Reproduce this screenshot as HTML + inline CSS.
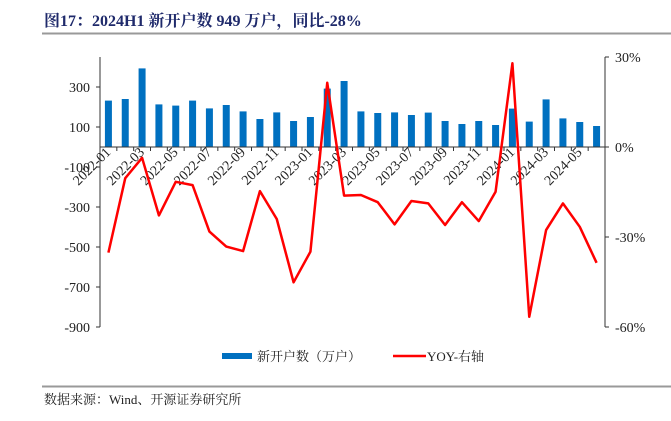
<!DOCTYPE html>
<html><head><meta charset="utf-8"><style>
body{margin:0;background:#fff;width:671px;height:416px;overflow:hidden;font-family:"Liberation Serif","Noto Serif CJK SC",serif}
</style></head><body>
<svg width="671" height="416" xmlns="http://www.w3.org/2000/svg">
<text x="44" y="26" font-size="16" font-weight="bold" fill="#1f2a6b" font-family="Liberation Serif, Noto Serif CJK SC, serif">图17：2024H1 新开户数 949 万户，同比-28%</text>
<line x1="42" y1="33.5" x2="671" y2="33.5" stroke="#999" stroke-width="2"/>
<g id="plot"></g>
<g>
<rect x="222" y="353" width="30" height="6" fill="#0070c0"/>
<text x="257" y="361" font-size="13" fill="#222">新开户数（万户）</text>
<line x1="393" y1="356" x2="426" y2="356" stroke="#f00" stroke-width="2.5"/>
<text x="427" y="361" font-size="13" fill="#222">YOY-右轴</text>
</g>
<line x1="42" y1="386.5" x2="671" y2="386.5" stroke="#999" stroke-width="2"/>
<text x="44" y="404" font-size="13" fill="#222">数据来源：Wind、开源证券研究所</text>
</svg>
<script>
const categories=["2022-01","2022-02","2022-03","2022-04","2022-05","2022-06","2022-07","2022-08","2022-09","2022-10","2022-11","2022-12","2023-01","2023-02","2023-03","2023-04","2023-05","2023-06","2023-07","2023-08","2023-09","2023-10","2023-11","2023-12","2024-01","2024-02","2024-03","2024-04","2024-05","2024-06"];
const newAccounts=[232,240,393,213,207,232,193,210,178,140,173,130,150,292,330,178,170,173,160,172,130,115,130,110,192,127,238,143,125,105];
const yoy=[-35.2,-10.4,-3.6,-22.8,-11.6,-12.7,-28.2,-33.2,-34.7,-14.7,-24,-45.1,-34.9,21.4,-16.2,-16,-18.4,-25.8,-18,-18.8,-26,-18.4,-24.7,-14.9,27.9,-56.6,-27.7,-18.8,-26.6,-38.6];
const leftTicks=[300,100,-100,-300,-500,-700,-900];
const rightTicks=[30,0,-30,-60];
const NS="http://www.w3.org/2000/svg";
const g=document.getElementById('plot');
const X0=100,X1=605,YT=57,YB=327;
const yL=v=>YT+(450-v)/1350*(YB-YT);
const yR=v=>YT+(30-v)/90*(YB-YT);
const slot=(X1-X0)/categories.length;
const xc=i=>X0+(i+0.5)*slot;
function mk(tag,attrs){const e=document.createElementNS(NS,tag);for(const k in attrs)e.setAttribute(k,attrs[k]);g.appendChild(e);return e;}
let e;
e=mk('line',{x1:X0,y1:YT,x2:X0,y2:YB,stroke:'#333','stroke-width':1});


e=mk('line',{x1:X1,y1:YT,x2:X1,y2:YB,stroke:'#333','stroke-width':1});


leftTicks.forEach(v=>{
 e=mk('line',{x1:X0-4,y1:yL(v),x2:X0,y2:yL(v),stroke:'#333'});
 
 
 e=mk('text',{x:X0-10,y:yL(v)+5,'text-anchor':'end','font-size':14,fill:'#222'});
 e.textContent=v;
 
 
});
rightTicks.forEach(v=>{
 e=mk('line',{x1:X1,y1:yR(v),x2:X1+4,y2:yR(v),stroke:'#333'});
 
 
 e=mk('text',{x:X1+10,y:yR(v)+5,'font-size':14,fill:'#222'});
 e.textContent=v+'%';
 
 
});
newAccounts.forEach((v,i)=>{
 const y=yL(v),y0=yL(0);
 e=mk('rect',{x:xc(i)-3.5,y:y,width:7,height:y0-y,fill:'#0070c0'});
 
 
});
e=mk('line',{x1:X0,y1:yL(0),x2:X1,y2:yL(0),stroke:'#333','stroke-width':1});


categories.forEach((c,i)=>{
 if(i>0){e=mk('line',{x1:X0+i*slot,y1:yL(0),x2:X0+i*slot,y2:yL(0)+4,stroke:'#333'});
 
 }
 if(i%2==0){
  const tx=xc(i)+3,ty=yL(0)+6;
  e=mk('text',{x:tx,y:ty,'text-anchor':'end','font-size':14,fill:'#222',transform:`rotate(-45 ${tx} ${ty})`});
  e.textContent=c;
  
  
 }
});
e=mk('polyline',{points:yoy.map((v,i)=>xc(i)+','+yR(v)).join(' '),fill:'none',stroke:'#f00','stroke-width':2.5,'stroke-linejoin':'round'});


</script>
</body></html>
